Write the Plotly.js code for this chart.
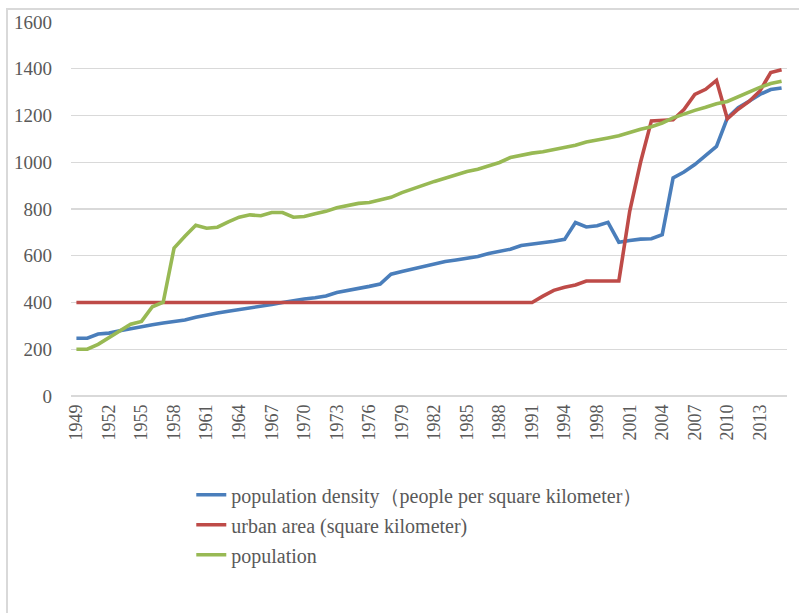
<!DOCTYPE html>
<html>
<head>
<meta charset="utf-8">
<script src="https://cdn.plot.ly/plotly-3.0.1.min.js"></script>
<style>
  html, body { margin: 0; padding: 0; width: 799px; height: 613px; overflow: hidden; background: #fff; }
  #chart { position: absolute; left: 0; top: 0; width: 799px; height: 613px; }
  #frame { position: absolute; left: 6px; top: 8px; width: 793px; height: 605px;
           border-top: 2px solid #d9d9d9; border-left: 2px solid #d9d9d9; pointer-events: none; box-sizing: border-box; }
</style>
</head>
<body>
<div id="chart"></div>
<div id="frame"></div>
<script>
const years = ["1949","1950","1951","1952","1953","1954","1955","1956","1957","1958",
  "1959","1960","1961","1962","1963","1964","1965","1966","1967","1968",
  "1969","1970","1971","1972","1973","1974","1975","1976","1977","1978",
  "1979","1980","1981","1982","1983","1984","1985","1986","1987","1988",
  "1989","1990","1991","1992","1993","1994","1995","1996","1998","1999",
  "2000","2001","2002","2003","2004","2005","2006","2007","2008","2009",
  "2010","2011","2012","2013","2014","2015"];

const tickYears = ["1949","1952","1955","1958","1961","1964","1967","1970","1973","1976",
  "1979","1982","1985","1988","1991","1994","1998","2001","2004","2007","2010","2013"];

const seriesNames = ["population density（people per square kilometer）",
  "urban area (square kilometer)", "population"];

const density = [247,247,265,269,279,289,298,305,312,317,
  325,337,347,355,363,370,375,383,391,400,
  408,415,420,428,443,451,460,469,479,521,
  533,544,554,564,575,582,590,597,610,619,
  628,644,649,655,662,670,742,723,728,743,
  658,665,671,673,690,933,958,990,1029,1068,
  1189,1233,1261,1290,1311,1318];

const urbanArea = [400,400,400,400,400,400,400,400,400,400,
  400,400,400,400,400,400,400,400,400,400,
  400,400,400,400,400,400,400,400,400,400,
  400,400,400,400,400,400,400,400,400,400,
  400,400,400,427,452,465,475,492,492,492,
  492,790,1000,1177,1180,1182,1225,1290,1312,1350,
  1186,1227,1260,1305,1384,1396];

const population = [200,200,221,250,275,307,319,382,401,633,
  683,730,718,722,745,765,775,771,785,785,
  765,768,780,790,805,815,824,828,840,850,
  870,888,902,918,933,946,960,970,985,999,
  1020,1030,1039,1045,1054,1063,1073,1087,1094,1104,
  1113,1128,1141,1152,1168,1190,1208,1222,1235,1250,
  1260,1281,1302,1320,1337,1347];

const colors = ["#4a7ebb", "#be4b48", "#98b954"];
const values = [density, urbanArea, population];

const traces = values.map((v, k) => ({
  type: "scatter",
  mode: "lines",
  x: years,
  y: v,
  name: seriesNames[k],
  legendgroup: "g" + k,
  line: { color: colors[k], width: 3.6 },
  hoverinfo: "x+y+name"
}));

const serif = "'Liberation Serif', 'DejaVu Serif', 'Times New Roman', serif";
const tickFont = { family: serif, size: 19, color: "#595959" };

const layout = {
  width: 799,
  height: 613,
  font: { family: serif, color: "#595959" },
  margin: { l: 71, r: 12, t: 22, b: 217 },
  paper_bgcolor: "rgba(0,0,0,0)",
  plot_bgcolor: "#ffffff",
  showlegend: true,
  legend: {
    orientation: "v",
    x: 0.168, xanchor: "left",
    y: -0.212, yanchor: "top",
    traceorder: "grouped",
    tracegroupgap: 1,
    font: { family: serif, size: 20, color: "#595959" },
    bgcolor: "rgba(0,0,0,0)",
    itemwidth: 30
  },
  xaxis: {
    type: "category",
    range: [-0.5, years.length - 0.5],
    tickmode: "array",
    tickvals: tickYears,
    ticktext: tickYears,
    tickangle: -90,
    tickfont: { family: serif, size: 18, color: "#595959" },
    showgrid: false,
    showline: false,
    zeroline: false,
    ticks: "",
    ticklabelstandoff: 4
  },
  yaxis: {
    range: [0, 1600],
    dtick: 200,
    tick0: 0,
    tickfont: tickFont,
    gridcolor: "#d9d9d9",
    gridwidth: 1.3,
    zeroline: true,
    zerolinecolor: "#d9d9d9",
    zerolinewidth: 1.3,
    showline: false,
    ticks: "",
    ticklabelstandoff: 18
  }
};

Plotly.newPlot("chart", traces, layout, { displayModeBar: false, staticPlot: true });
</script>
</body>
</html>
